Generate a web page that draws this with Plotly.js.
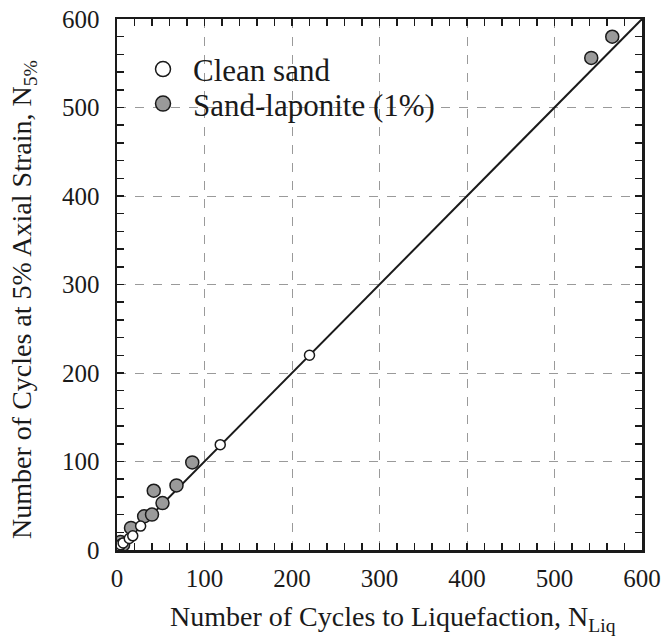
<!DOCTYPE html>
<html>
<head>
<meta charset="utf-8">
<script src="https://cdn.plot.ly/plotly-3.0.1.min.js"></script>
<style>
  html, body { margin: 0; padding: 0; background: #fff; }
  #chart { width: 665px; height: 637px; }
  svg text, svg tspan { font-family: "Liberation Serif", "Times New Roman", serif !important; }
</style>
</head>
<body>
<div id="chart"></div>
<script>
// Cycles to liquefaction (N_Liq) vs cycles to 5% axial strain (N_5%)
const cleanNLiq = [2, 4, 7, 14, 18, 27, 118, 220];
const cleanN5 = [2, 6, 8, 13, 16, 27, 119, 220];

const lapNLiq = [4, 7, 16, 31, 40, 42, 52, 68, 86, 542, 566];
const lapN5 = [9, 6, 25, 38, 40, 67, 53, 73, 99, 556, 580];

// 1:1 reference line
const lineX = [0, 600];
const lineY = [0, 600];

const tickVals = [0, 100, 200, 300, 400, 500, 600];

const xTitle = 'Number of Cycles to Liquefaction, N<sub>Liq</sub>';
const yTitle = 'Number of Cycles at 5% Axial Strain, N<sub>5%</sub>';

const serif = '"Liberation Serif", "Times New Roman", serif';
const ink = '#1a1a1a';

const traces = [
  {
    x: lineX, y: lineY, mode: 'lines', type: 'scatter',
    line: { color: ink, width: 2 }, showlegend: false, hoverinfo: 'skip'
  },
  {
    x: lapNLiq, y: lapN5, mode: 'markers', type: 'scatter',
    name: 'Sand-laponite (1%)', showlegend: false,
    marker: { size: 13, color: '#9a9a9a', line: { color: ink, width: 1.5 } }
  },
  {
    x: cleanNLiq, y: cleanN5, mode: 'markers', type: 'scatter',
    name: 'Clean sand', showlegend: false,
    marker: { size: 10, color: '#ffffff', line: { color: ink, width: 1.5 } }
  },
  // legend entries
  {
    x: [null], y: [null], mode: 'markers', type: 'scatter', name: 'Clean sand',
    legend: 'legend',
    marker: { size: 15, color: '#ffffff', line: { color: ink, width: 1.5 } }
  },
  {
    x: [null], y: [null], mode: 'markers', type: 'scatter', name: 'Sand-laponite (1%)',
    legend: 'legend2',
    marker: { size: 15, color: '#9a9a9a', line: { color: ink, width: 1.5 } }
  }
];

const axisCommon = {
  range: [0, 600],
  tickvals: tickVals,
  ticks: 'inside',
  ticklen: 7,
  tickwidth: 1.5,
  tickcolor: ink,
  minor: { dtick: 20, ticks: 'inside', ticklen: 7, tickwidth: 1.5, tickcolor: ink, showgrid: false },
  showline: true,
  linecolor: ink,
  linewidth: 2.5,
  mirror: 'allticks',
  showgrid: true,
  gridcolor: '#9a9a9a',
  gridwidth: 1,
  griddash: 'dash',
  zeroline: false,
  tickfont: { family: serif, size: 25, color: ink },
  fixedrange: true
};

const legendCommon = {
  xanchor: 'left', yanchor: 'middle',
  bgcolor: 'rgba(0,0,0,0)', borderwidth: 0,
  font: { family: serif, size: 31, color: ink },
  itemwidth: 50
};

const titleFont = { family: serif, size: 28, color: ink };

const layout = {
  width: 665,
  height: 637,
  margin: { l: 117, r: 23, t: 19, b: 87 },
  font: { family: serif, color: ink },
  paper_bgcolor: '#ffffff',
  plot_bgcolor: '#ffffff',
  showlegend: true,
  legend: Object.assign({}, legendCommon, { x: 0.0305, y: 0.905 }),
  legend2: Object.assign({}, legendCommon, { x: 0.0305, y: 0.84 }),
  // white panel behind the legend entries, hiding the grid there
  shapes: [{
    type: 'rect', xref: 'paper', yref: 'paper', layer: 'between',
    x0: 0.048, x1: 0.672, y0: 0.7815, y1: 1,
    fillcolor: '#ffffff', line: { width: 0 }
  }],
  // axis titles
  annotations: [
    {
      text: xTitle, xref: 'paper', yref: 'paper', x: 0.526, y: -0.129,
      xanchor: 'center', yanchor: 'middle', showarrow: false, font: titleFont
    },
    {
      text: yTitle, xref: 'paper', yref: 'paper', x: -0.178, y: 0.472,
      xanchor: 'center', yanchor: 'middle', showarrow: false, textangle: -90, font: titleFont
    }
  ],
  xaxis: Object.assign({}, axisCommon, { ticklabelstandoff: 4 }),
  yaxis: Object.assign({}, axisCommon, { ticklabelstandoff: 10 })
};

Plotly.newPlot('chart', traces, layout, { displayModeBar: false, staticPlot: true });
</script>
</body>
</html>
